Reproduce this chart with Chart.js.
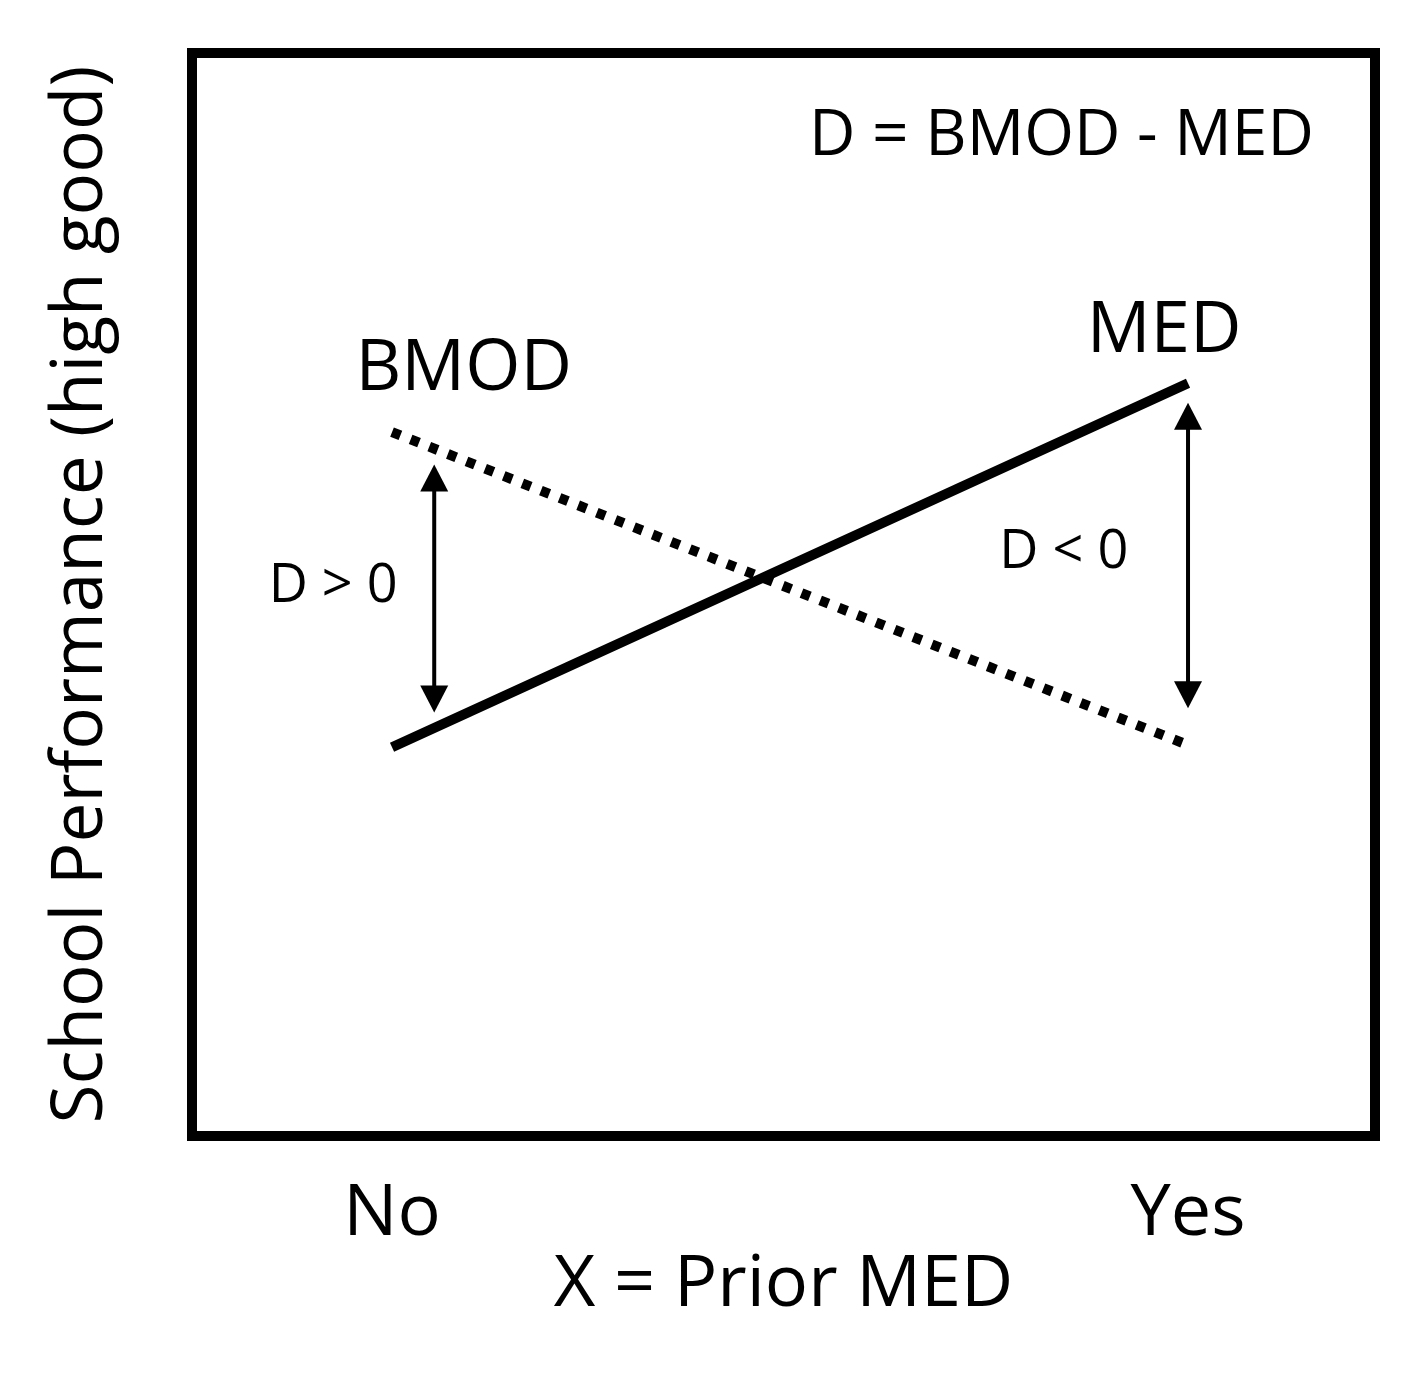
<!DOCTYPE html>
<html>
<head>
<meta charset="utf-8">
<script src="https://cdn.jsdelivr.net/npm/chart.js@4.4.1/dist/chart.umd.min.js"></script>
<style>
  html, body { margin: 0; padding: 0; background: #ffffff; }
  #wrap { width: 1411px; height: 1384px; }
</style>
</head>
<body>
<div id="wrap"><canvas id="c" width="1411" height="1384"></canvas></div>
<script>
// ---- data ----
const categories = ["No", "Yes"];          // X = Prior MED
const categoryValues = [0, 1];
const bmodValues = [6.50, 3.61];           // dotted line
const medValues = [3.59, 6.95];            // solid line
const xRange = [-0.2513, 1.2349];
const yRange = [0, 10];
// arrows (x, top tip, bottom tip)
const arrowX = [0.053, 1.0];
const arrowTop = [6.20, 6.77];
const arrowBottom = [3.91, 3.95];
// annotation labels
const noteTexts = ["D = BMOD - MED", "BMOD", "MED", "D > 0", "D < 0"];
const noteX = [0.841, 0.090, 0.970, -0.074, 0.844];
const noteY = [9.27, 7.12, 7.47, 5.11, 5.42];
const noteSizes = [64, 71, 71, 54, 54];

const FONT = '"Open Sans", "Noto Sans", sans-serif';

const boxPlugin = {
  id: 'boxAndNotes',
  afterDraw(chart) {
    const ctx = chart.ctx;
    const a = chart.chartArea;
    const xs = chart.scales.x, ys = chart.scales.y;
    ctx.save();
    // frame
    ctx.strokeStyle = '#000';
    ctx.lineWidth = 10;
    ctx.strokeRect(a.left, a.top, a.right - a.left, a.bottom - a.top);
    // arrows
    const head = 27, half = 14;
    ctx.fillStyle = '#000';
    ctx.lineWidth = 4;
    for (let i = 0; i < arrowX.length; i++) {
      const px = xs.getPixelForValue(arrowX[i]);
      const t = ys.getPixelForValue(arrowTop[i]);
      const b = ys.getPixelForValue(arrowBottom[i]);
      ctx.beginPath();
      ctx.moveTo(px, t + head - 1);
      ctx.lineTo(px, b - head + 1);
      ctx.stroke();
      ctx.beginPath();
      ctx.moveTo(px, t); ctx.lineTo(px - half, t + head); ctx.lineTo(px + half, t + head); ctx.closePath();
      ctx.fill();
      ctx.beginPath();
      ctx.moveTo(px, b); ctx.lineTo(px - half, b - head); ctx.lineTo(px + half, b - head); ctx.closePath();
      ctx.fill();
    }
    // notes (y value = cap-height centre)
    ctx.textAlign = 'center';
    ctx.textBaseline = 'alphabetic';
    for (let i = 0; i < noteTexts.length; i++) {
      const s = noteSizes[i];
      ctx.font = s + 'px ' + FONT;
      const px = xs.getPixelForValue(noteX[i]);
      const py = ys.getPixelForValue(noteY[i]) + 0.357 * s;
      ctx.fillText(noteTexts[i], px, py);
    }
    ctx.restore();
  }
};

function build() {
  new Chart(document.getElementById('c'), {
    type: 'scatter',
    data: {
      datasets: [
        {
          label: 'BMOD',
          data: categoryValues.map((x, i) => ({ x, y: bmodValues[i] })),
          showLine: true,
          borderColor: '#000',
          borderWidth: 10,
          borderDash: [9, 11],
          borderCapStyle: 'butt',
          pointRadius: 0,
          fill: false
        },
        {
          label: 'MED',
          data: categoryValues.map((x, i) => ({ x, y: medValues[i] })),
          showLine: true,
          borderColor: '#000',
          borderWidth: 10,
          borderCapStyle: 'butt',
          pointRadius: 0,
          fill: false
        }
      ]
    },
    options: {
      responsive: false,
      animation: false,
      layout: { padding: { left: 0, top: 53, right: 36, bottom: 0 } },
      plugins: { legend: { display: false }, tooltip: { enabled: false } },
      scales: {
        x: {
          type: 'linear',
          min: xRange[0],
          max: xRange[1],
          afterBuildTicks(scale) { scale.ticks = categoryValues.map(v => ({ value: v })); },
          afterFit(scale) { scale.height = 248; },
          ticks: {
            color: '#000',
            font: { family: FONT, size: 72 },
            padding: 27,
            maxRotation: 0,
            autoSkip: false,
            callback(v) { const i = categoryValues.indexOf(v); return i >= 0 ? categories[i] : ''; }
          },
          grid: { display: false },
          border: { display: false },
          title: {
            display: true,
            text: 'X = Prior MED',
            color: '#000',
            font: { family: FONT, size: 72 },
            padding: { top: 0, bottom: 55 }
          }
        },
        y: {
          min: yRange[0],
          max: yRange[1],
          afterFit(scale) { scale.width = 192; },
          ticks: { display: false },
          grid: { display: false },
          border: { display: false },
          title: {
            display: true,
            text: 'School Performance (high good)',
            color: '#000',
            font: { family: FONT, size: 71 },
            padding: { top: 39, bottom: 0 }
          }
        }
      }
    },
    plugins: [boxPlugin]
  });
}

const loads = [document.fonts.load('70px "Open Sans"'), document.fonts.load('53px "Open Sans"')];
Promise.all(loads).then(build, build);
</script>
</body>
</html>
